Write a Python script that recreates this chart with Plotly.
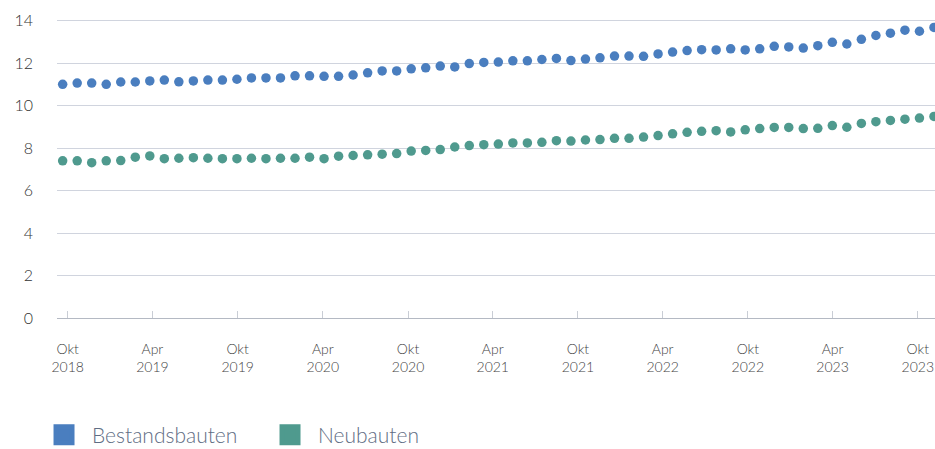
import pandas as pd
import plotly.graph_objects as go

# ── Colors ─────────────────────────────────────────────────────────────────────
BLUE = "#4a7ebf"
GREEN = "#4f9a8e"
GRID_COLOR = "#d0d4de"
AXIS_COLOR = "#b4b9c3"
TICK_COLOR = "#c9cdd5"
YLABEL_COLOR = "#333333"
XLABEL_COLOR = "#444444"
LEGEND_COLOR = "#5f6d84"
FONT = "Lato, 'Open Sans', sans-serif"

# ── Data (monthly, Okt 2018 – Okt 2023) ───────────────────────────────────────
MONTHS = [d.strftime("%Y-%m") for d in pd.date_range("2018-10-01", "2023-10-01", freq="MS")]

BESTANDSBAUTEN = [
    11.00, 11.06, 11.06, 11.00, 11.11, 11.11, 11.16, 11.20, 11.12, 11.16,
    11.20, 11.20, 11.24, 11.30, 11.30, 11.30, 11.40, 11.40, 11.38, 11.38,
    11.44, 11.54, 11.63, 11.63, 11.73, 11.78, 11.86, 11.82, 11.98, 12.03,
    12.05, 12.11, 12.11, 12.17, 12.22, 12.12, 12.19, 12.25, 12.33, 12.33,
    12.32, 12.43, 12.52, 12.59, 12.63, 12.62, 12.67, 12.62, 12.67, 12.79,
    12.76, 12.71, 12.82, 12.98, 12.90, 13.12, 13.30, 13.41, 13.55, 13.50,
    13.68,
]
NEUBAUTEN = [
    7.40, 7.40, 7.31, 7.40, 7.41, 7.57, 7.63, 7.50, 7.52, 7.55,
    7.52, 7.50, 7.50, 7.52, 7.50, 7.52, 7.52, 7.57, 7.50, 7.62,
    7.65, 7.68, 7.71, 7.74, 7.86, 7.89, 7.93, 8.05, 8.12, 8.16,
    8.19, 8.24, 8.24, 8.27, 8.35, 8.33, 8.38, 8.40, 8.46, 8.46,
    8.52, 8.59, 8.67, 8.74, 8.79, 8.82, 8.76, 8.86, 8.92, 8.97,
    8.97, 8.92, 8.93, 9.06, 8.98, 9.16, 9.24, 9.30, 9.36, 9.41,
    9.49,
]

TICK_DATES = [
    "2018-10-01", "2019-04-01", "2019-10-01", "2020-04-01", "2020-10-01", "2021-04-01",
    "2021-10-01", "2022-04-01", "2022-10-01", "2023-04-01", "2023-10-01",
]
TICK_TEXT = [
    "Okt<br>2018", "Apr<br>2019", "Okt<br>2019", "Apr<br>2020", "Okt<br>2020", "Apr<br>2021",
    "Okt<br>2021", "Apr<br>2022", "Okt<br>2022", "Apr<br>2023", "Okt<br>2023",
]
Y_TICKS = [0, 2, 4, 6, 8, 10, 12, 14]

SERIES = [("Bestandsbauten", BESTANDSBAUTEN, BLUE), ("Neubauten", NEUBAUTEN, GREEN)]

fig = go.Figure()

for name, values, color in SERIES:
    # dots on the hidden category axis
    fig.add_trace(go.Scatter(
        x=MONTHS, y=values, xaxis="x2", yaxis="y",
        mode="markers", name=name, showlegend=False,
        marker=dict(color=color, size=9.5),
        cliponaxis=False,
        hovertemplate="%{x}<br>%{y:.2f}<extra>" + name + "</extra>",
    ))
for name, values, color in SERIES:
    # legend entry (square swatch)
    fig.add_trace(go.Scatter(
        x=[None], y=[None], mode="markers", name=name,
        marker=dict(color=color, size=16, symbol="square",
                    line=dict(color=color, width=6)),
        hoverinfo="skip",
    ))

fig.update_layout(
    width=935, height=449,
    paper_bgcolor="white", plot_bgcolor="white",
    font=dict(family=FONT, color=YLABEL_COLOR, weight=300),
    margin=dict(l=57, r=0, t=10, b=131),
    xaxis=dict(
        type="date",
        range=["2018-09-08", "2023-11-07"],
        tickmode="array", tickvals=TICK_DATES, ticktext=TICK_TEXT,
        ticks="inside", ticklen=7, tickcolor=TICK_COLOR, tickwidth=1,
        showline=True, linecolor=AXIS_COLOR, linewidth=1,
        showgrid=False, zeroline=False,
        tickfont=dict(size=14, color=XLABEL_COLOR, family=FONT, weight=300),
        ticklabelstandoff=18,
        fixedrange=True,
    ),
    xaxis2=dict(
        type="category", overlaying="x", visible=False,
        range=[-0.39, 60.07], fixedrange=True,
    ),
    yaxis=dict(
        range=[0, 14.5],
        tickmode="array", tickvals=Y_TICKS,
        showgrid=True, gridcolor=GRID_COLOR, gridwidth=1,
        zeroline=False, showline=False,
        tickfont=dict(size=16, color=YLABEL_COLOR, family=FONT, weight=300),
        ticklabelstandoff=23,
        fixedrange=True,
    ),
    showlegend=True,
    legend=dict(
        orientation="h",
        x=-0.0239, xanchor="left",
        yref="container", y=0.031, yanchor="middle",
        font=dict(size=21, color=LEGEND_COLOR, family=FONT, weight=300),
        itemwidth=46,
        entrywidth=165, entrywidthmode="pixels",
        bgcolor="rgba(0,0,0,0)",
    ),
    hovermode="closest",
)

fig.write_html(
    "out.html",
    config={"displayModeBar": False},
    post_script="document.body.style.margin = '0';",
)
